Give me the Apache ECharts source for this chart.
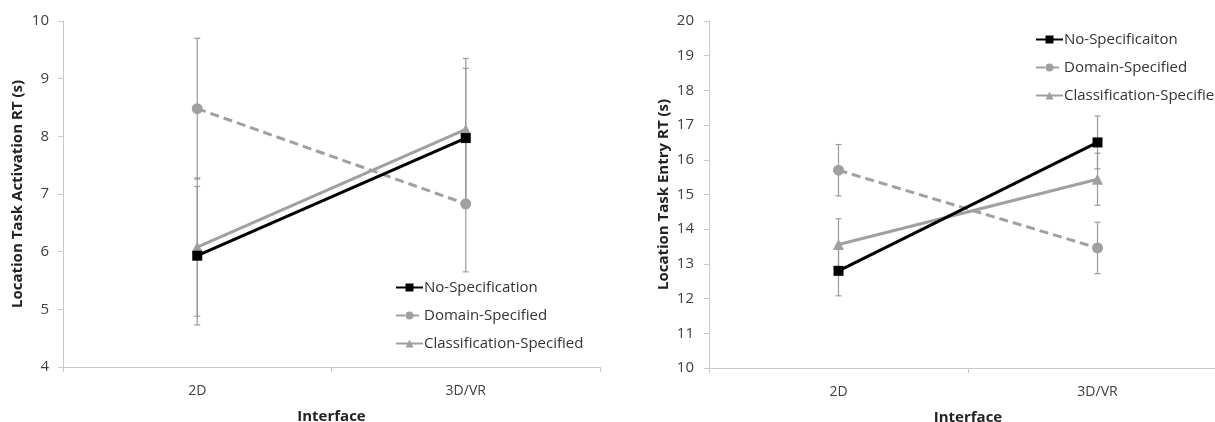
<!DOCTYPE html>
<html>
<head>
<meta charset="utf-8">
<script src="https://cdn.jsdelivr.net/npm/echarts@6/dist/echarts.min.js"></script>
<style>
  html, body {margin: 0; padding: 0; background: #fff;}
  #chart {width: 1215px; height: 422px;}
</style>
</head>
<body>
<div id="chart"></div>
<script>
const categories = ['2D', '3D/VR'];

// left panel: Location Task Activation RT (s)
const leftNoSpec = [5.93, 7.97];
const leftNoSpecErr = [1.2, 1.21];
const leftDomain = [8.48, 6.83];
const leftDomainErr = [1.22, 1.18];
const leftClass = [6.08, 8.12];
const leftClassErr = [1.2, 1.23];

// right panel: Location Task Entry RT (s)
const rightNoSpec = [12.8, 16.5];
const rightNoSpecErr = [0.72, 0.76];
const rightDomain = [15.7, 13.46];
const rightDomainErr = [0.74, 0.74];
const rightClass = [13.56, 15.44];
const rightClassErr = [0.74, 0.75];

const font = 'Open Sans';
const textColor = '#404040';

const errData = (vals, errs) => vals.map((v, i) => [i, v - errs[i], v + errs[i]]);

function errorSeries(idx, vals, errs) {
  return {
    type: 'custom',
    xAxisIndex: idx, yAxisIndex: idx,
    silent: true, z: 1,
    data: errData(vals, errs),
    renderItem: (params, api) => {
      const lo = api.coord([api.value(0), api.value(1)]);
      const hi = api.coord([api.value(0), api.value(2)]);
      const w = 3;
      const style = {stroke: '#9a9a9a', lineWidth: 1.2};
      return {
        type: 'group',
        children: [
          {type: 'line', shape: {x1: lo[0], y1: lo[1], x2: hi[0], y2: hi[1]}, style},
          {type: 'line', shape: {x1: lo[0] - w, y1: lo[1], x2: lo[0] + w, y2: lo[1]}, style},
          {type: 'line', shape: {x1: hi[0] - w, y1: hi[1], x2: hi[0] + w, y2: hi[1]}, style}
        ]
      };
    }
  };
}

function noSpec(idx, name, vals) {
  return {
    name, type: 'line', xAxisIndex: idx, yAxisIndex: idx, data: vals, z: 4,
    symbol: 'rect', symbolSize: 10,
    lineStyle: {color: '#000', width: 3}, itemStyle: {color: '#000'}
  };
}
function domain(idx, vals) {
  return {
    name: 'Domain-Specified', type: 'line', xAxisIndex: idx, yAxisIndex: idx, data: vals, z: 2,
    symbol: 'circle', symbolSize: 11,
    lineStyle: {color: '#a0a0a0', width: 3, type: [9, 5]}, itemStyle: {color: '#a0a0a0'}
  };
}
function classSpec(idx, vals) {
  return {
    name: 'Classification-Specified', type: 'line', xAxisIndex: idx, yAxisIndex: idx, data: vals, z: 3,
    symbol: 'triangle', symbolSize: 11,
    lineStyle: {color: '#a0a0a0', width: 3}, itemStyle: {color: '#a0a0a0'}
  };
}

function xAxis(idx) {
  return {
    type: 'category', gridIndex: idx, data: categories,
    name: 'Interface', nameLocation: 'middle', nameGap: 42,
    nameTextStyle: {fontFamily: font, fontWeight: 'bold', fontSize: 15, color: '#222'},
    axisLine: {lineStyle: {color: '#c8c8c8'}},
    axisTick: {show: true, length: 5, lineStyle: {color: '#c8c8c8'}},
    axisLabel: {fontFamily: font, fontSize: 14, color: textColor, margin: 17}
  };
}
function yAxis(idx, min, max, title, gap, labelMargin) {
  return {
    type: 'value', gridIndex: idx, min, max, interval: 1,
    name: title, nameLocation: 'middle', nameGap: gap,
    nameTextStyle: {fontFamily: font, fontWeight: 'bold', fontSize: 15, color: '#222'},
    axisLine: {show: true, lineStyle: {color: '#c8c8c8'}},
    axisTick: {show: true, length: 5, lineStyle: {color: '#c8c8c8'}},
    splitLine: {show: false},
    axisLabel: {fontFamily: font, fontSize: 15, color: textColor, margin: labelMargin}
  };
}

const legendBase = {
  orient: 'vertical', itemWidth: 27, itemHeight: 10, itemGap: 13, padding: 0,
  textStyle: {fontFamily: font, fontSize: 15, color: '#333', padding: [0, 0, 0, -4]}
};

const chart = echarts.init(document.getElementById('chart'));
chart.setOption({
  animation: false,
  backgroundColor: '#fff',
  grid: [
    {left: 63, width: 537, top: 21, bottom: 55, outerBoundsMode: 'none'},
    {left: 709, width: 518, top: 21, bottom: 54, outerBoundsMode: 'none'}
  ],
  xAxis: [xAxis(0), xAxis(1)],
  yAxis: [
    yAxis(0, 4, 10, 'Location Task Activation RT (s)', 38, 14),
    yAxis(1, 10, 20, 'Location Task Entry RT (s)', 38, 15)
  ],
  legend: [
    Object.assign({left: 395, top: 280, data: ['No-Specification', 'Domain-Specified', 'Classification-Specified']}, legendBase),
    Object.assign({left: 1035, top: 32, data: ['No-Specificaiton', 'Domain-Specified', 'Classification-Specified']}, legendBase)
  ],
  series: [
    errorSeries(0, leftNoSpec, leftNoSpecErr),
    errorSeries(0, leftDomain, leftDomainErr),
    errorSeries(0, leftClass, leftClassErr),
    noSpec(0, 'No-Specification', leftNoSpec),
    domain(0, leftDomain),
    classSpec(0, leftClass),
    errorSeries(1, rightNoSpec, rightNoSpecErr),
    errorSeries(1, rightDomain, rightDomainErr),
    errorSeries(1, rightClass, rightClassErr),
    noSpec(1, 'No-Specificaiton', rightNoSpec),
    domain(1, rightDomain),
    classSpec(1, rightClass)
  ]
});
</script>
</body>
</html>
